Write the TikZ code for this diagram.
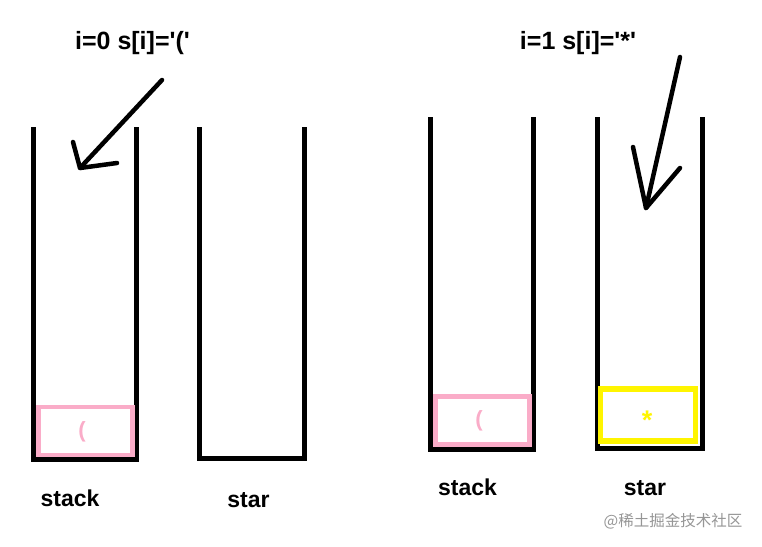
\documentclass[tikz,border=0pt]{standalone}
\usepackage{fontspec}
\setmainfont{Liberation Sans}
\newfontfamily\cjk{Noto Sans CJK SC}
\definecolor{pinkc}{RGB}{250,172,200}
\definecolor{yellowc}{RGB}{255,245,0}
\definecolor{wmgray}{RGB}{150,150,150}
\newcommand{\sq}{\textquotesingle}
\begin{document}
\begin{tikzpicture}[x=1pt,y=-1pt,
  wall/.style={line width=5pt, line join=miter},
  pen/.style={line width=4.5pt, line cap=round, line join=round},
  lbl/.style={font=\bfseries\fontsize{23}{27}\selectfont, inner sep=0pt},
  toplbl/.style={font=\bfseries\fontsize{25}{29}\selectfont, inner sep=0pt},
  pinkbox/.style={draw=pinkc, line width=4.5pt, minimum width=94pt, minimum height=48pt, inner sep=0pt},
  yellowbox/.style={draw=yellowc, line width=5.5pt, minimum width=95pt, minimum height=52pt, inner sep=0pt},
  pinktxt/.style={text=pinkc, font=\bfseries\fontsize{22}{24}\selectfont, inner sep=0pt},
  yellowtxt/.style={text=yellowc, font=\bfseries\fontsize{27}{29}\selectfont, inner sep=0pt}
]
\useasboundingbox[fill=white] (0,0) rectangle (762,546);

% containers
\draw[wall] (33,127) -- (33,459) -- (136,459) -- (136,127);
\draw[wall] (199,127) -- (199,458) -- (304,458) -- (304,127);
\draw[wall] (430,117) -- (430,449) -- (533,449) -- (533,117);
\draw[wall] (597,117) -- (597,448) -- (702,448) -- (702,117);

% contents
\node[pinkbox] (p1) at (85.5,431) {};
\node[pinktxt] (p1t) at (82,432) {(};
\node[pinkbox] (p2) at (482.5,420.5) {};
\node[pinktxt] (p2t) at (479,421) {(};
\node[yellowbox] (y1) at (648,415) {};
\node[yellowtxt] (y1t) at (647,420) {*};

% top labels
\node[toplbl] (t1) at (132.5,43) {i=0 s[i]=\sq(\sq};
\node[toplbl] (t2) at (578,43) {i=1 s[i]=\sq*\sq};

% arrows
\coordinate (a1s) at (162,80);
\coordinate (a1e) at (80,168);
\coordinate (a1l) at (73,142);
\coordinate (a1r) at (117,163);
\draw[pen] (a1s) -- (a1e);
\draw[pen] (a1l) -- (a1e) -- (a1r);

\coordinate (a2s) at (680,57);
\coordinate (a2e) at (646,208);
\coordinate (a2l) at (633,147);
\coordinate (a2r) at (680,168);
\draw[pen] (a2s) -- (a2e);
\draw[pen] (a2l) -- (a2e) -- (a2r);

% bottom labels
\node[lbl] (s1) at (70,498) {stack};
\node[lbl] (r1) at (248.5,500) {star};
\node[lbl] (s2) at (467.5,487) {stack};
\node[lbl] (r2) at (645,488) {star};

% watermark
\node[inner sep=0pt, text=wmgray, font=\cjk\fontsize{15.5}{18}\selectfont] (wm) at (673,521) {@稀土掘金技术社区};
\end{tikzpicture}
\end{document}
